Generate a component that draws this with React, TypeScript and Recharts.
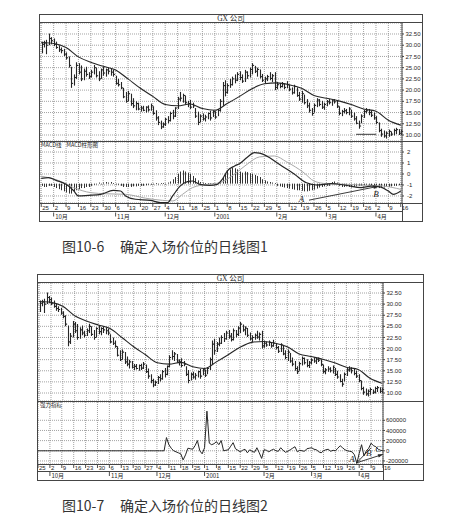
import React from 'react';
import { ComposedChart, Bar, Line, XAxis, YAxis, CartesianGrid, ReferenceLine, ReferenceDot } from 'recharts';

// daily bars, Sep 25 2000 .. Apr 16 2001 (trading day index 0..145)
const high = [
  30.8, 31.0, 31.2, 32.6, 31.8, 31.5, 30.8, 30.0, 29.5, 29.2,
  28.4, 27.5, 25.2, 23.5, 26.2, 26.0, 25.5, 24.8, 25.2, 24.0,
  24.5, 25.6, 25.0, 24.2, 24.8, 25.2, 24.8, 25.0, 24.8, 24.5,
  23.2, 22.5, 21.8, 20.5, 19.6, 19.8, 19.2, 18.2, 17.5, 17.2,
  16.5, 16.5, 16.4, 16.6, 17.0, 16.4, 15.5, 14.2, 13.2, 12.8,
  13.8, 14.2, 15.2, 15.6, 16.2, 18.5, 19.6, 19.2, 18.8, 17.6,
  17.8, 17.2, 16.0, 15.2, 14.6, 14.8, 14.5, 15.0, 15.4, 15.5,
  15.3, 15.8, 18.0, 21.8, 22.2, 21.5, 22.5, 23.0, 23.5, 24.0,
  24.2, 23.5, 24.5, 24.2, 25.0, 26.0, 25.4, 25.0, 24.6, 23.6,
  23.0, 23.4, 24.0, 23.6, 24.0, 21.8, 21.6, 21.8, 21.5, 22.0,
  21.2, 20.6, 21.2, 20.6, 19.6, 19.8, 19.0, 18.0, 17.2, 16.0,
  17.0, 18.2, 18.0, 17.6, 17.2, 17.8, 18.0, 17.9, 18.0, 17.6,
  16.4, 15.6, 16.0, 15.8, 16.2, 15.6, 15.0, 14.2, 13.2, 14.6,
  15.6, 16.0, 15.8, 15.5, 15.0, 14.2, 12.8, 11.4, 11.0, 10.8,
  11.2, 10.8, 11.4, 11.6, 11.3, 11.2,
];
const low = [
  28.2, 29.5, 28.0, 30.0, 30.2, 29.8, 29.2, 28.5, 28.2, 27.6,
  26.8, 25.0, 20.5, 21.0, 22.5, 23.5, 22.0, 22.2, 23.0, 22.5,
  22.8, 23.5, 22.8, 22.0, 22.5, 23.2, 23.0, 23.5, 23.2, 23.0,
  21.2, 20.8, 20.2, 18.2, 17.2, 17.5, 16.5, 16.0, 15.5, 15.5,
  15.2, 15.3, 15.0, 15.2, 15.4, 14.5, 13.2, 12.2, 11.3, 11.6,
  12.0, 12.6, 13.0, 13.5, 14.0, 15.8, 17.5, 17.2, 16.8, 16.2,
  15.8, 16.0, 13.8, 12.2, 12.8, 13.2, 13.0, 13.5, 13.2, 14.0,
  13.6, 14.2, 15.2, 16.5, 18.6, 19.2, 20.5, 21.0, 21.5, 22.0,
  22.2, 21.6, 21.8, 22.5, 22.8, 23.5, 23.8, 23.0, 22.6, 21.8,
  21.5, 22.0, 22.2, 21.8, 20.0, 20.2, 20.4, 20.6, 20.2, 20.4,
  19.8, 19.0, 19.2, 18.5, 17.6, 17.2, 16.8, 16.0, 15.0, 14.3,
  15.0, 16.2, 16.4, 15.8, 15.6, 16.4, 16.8, 16.5, 17.0, 16.0,
  14.4, 14.2, 14.8, 14.6, 14.4, 13.8, 13.2, 12.4, 11.4, 12.6,
  13.8, 14.8, 14.4, 14.0, 13.4, 12.4, 10.6, 9.6, 9.4, 9.2,
  9.6, 9.8, 9.9, 10.2, 10.0, 10.0,
];
const close = [
  30.2, 30.5, 30.0, 31.5, 31.0, 30.2, 29.5, 29.0, 28.8, 28.0,
  27.2, 25.5, 21.5, 22.8, 25.5, 24.0, 22.5, 24.2, 23.5, 23.0,
  24.0, 25.0, 23.2, 22.5, 24.5, 23.8, 24.5, 24.2, 24.0, 23.5,
  21.5, 21.2, 20.5, 18.5, 17.5, 19.2, 17.0, 16.5, 17.0, 15.8,
  16.0, 15.5, 16.2, 15.6, 16.5, 14.8, 13.8, 12.8, 11.8, 12.4,
  13.5, 13.2, 14.8, 14.2, 16.0, 18.0, 18.2, 18.8, 17.2, 17.0,
  16.2, 16.5, 14.2, 12.8, 14.2, 13.6, 14.0, 14.8, 13.8, 15.2,
  14.0, 15.5, 17.5, 21.0, 19.5, 21.0, 21.2, 22.5, 22.2, 23.5,
  22.8, 22.0, 24.0, 23.2, 24.6, 25.5, 24.2, 24.6, 23.0, 22.2,
  22.5, 23.0, 22.6, 23.2, 20.6, 21.2, 20.8, 21.4, 20.6, 21.2,
  20.2, 19.4, 20.8, 18.8, 18.0, 19.2, 17.2, 16.5, 15.5, 14.8,
  16.6, 17.8, 16.8, 16.2, 16.8, 17.4, 17.2, 17.6, 17.4, 16.4,
  14.8, 15.2, 15.4, 15.0, 15.8, 14.2, 13.6, 12.6, 12.0, 14.2,
  15.2, 15.4, 15.0, 14.4, 13.8, 12.8, 11.0, 10.2, 9.8, 10.4,
  10.8, 10.2, 11.0, 11.2, 10.4, 10.8,
];

// moving average, read every 5 days
const maDays = [0, 5, 10, 15, 20, 25, 30, 35, 40, 45, 50, 55, 60, 65, 70, 75, 80, 85, 90, 95, 100, 105, 110, 115, 120, 125, 130, 135, 140, 145];
const maVals = [30.6, 30.4, 29.5, 27.4, 26.2, 25.3, 24.5, 22.5, 20.4, 18.6, 16.8, 16.5, 16.9, 15.9, 15.5, 17.0, 18.6, 20.3, 21.4, 21.6, 21.2, 20.4, 18.8, 18.2, 17.6, 16.8, 15.8, 15.3, 13.3, 12.2];

// MACD line and signal line (turning points)
const macdDays = [0, 3, 6, 10, 13, 15, 19, 24, 29, 32, 34, 38, 44, 48, 51, 53, 56, 59, 61, 64, 68, 71, 73, 75, 78, 80, 83, 86, 88, 92, 96, 102, 107, 111, 117, 123, 129, 133, 137, 140, 142, 145];
const macdVals = [-0.4, -0.33, -0.58, -0.94, -1.5, -2.0, -1.94, -1.85, -1.5, -1.55, -2.0, -2.3, -2.4, -2.6, -2.6, -2.0, -1.1, -0.7, -0.64, -0.94, -1.03, -0.94, -0.5, 0.27, 0.73, 0.94, 1.5, 1.94, 1.9, 1.5, 0.88, 0.0, -0.8, -1.0, -0.88, -1.03, -1.24, -1.1, -1.2, -1.55, -1.85, -1.55];
const signalDays = [0, 7, 13, 20, 26, 34, 42, 49, 53, 57, 61, 67, 72, 78, 83, 88, 94, 99, 106, 110, 115, 123, 131, 138, 145];
const signalVals = [-0.2, -0.6, -1.24, -1.7, -1.8, -1.85, -2.2, -2.4, -2.45, -1.85, -1.24, -0.94, -0.8, 0.0, 0.88, 1.55, 1.64, 1.1, 0.1, -0.64, -0.88, -0.94, -1.03, -1.1, -1.4];

// histogram drawn around its own base level in the MACD panel
const histBase = -0.88;
const histDev = [
  -0.2, -0.3, -0.3, -0.2, -0.2,
  -0.3, -0.4, -0.5, -0.6, -0.7, -0.8, -0.9, -0.9, -0.7, -0.6,
  -0.5, -0.4, -0.4, -0.3, -0.3, -0.2, -0.1,
  0, 0.1, 0, 0.1, 0.15, 0.1, 0.15, 0.05, 0,
  -0.1, -0.2, -0.3, -0.3, -0.3, -0.3, -0.25, -0.25, -0.2, -0.2, -0.2, -0.15, -0.1, -0.1, -0.05,
  0.05, 0, 0.05, 0.05, 0, 0.1, 0.2,
  0.4, 0.6, 0.9, 1.1, 1.2, 1.1, 1.0, 0.9, 0.7, 0.5, 0.3,
  0.15, 0.1, 0.05, 0.05, 0.05, 0.05, 0.05, 0.1, 0.2,
  0.6, 0.9, 1.2, 1.3, 1.45, 1.4, 1.3, 1.1, 1.0, 1.1, 1.05, 0.95, 0.9, 0.8, 0.7, 0.6,
  0.4, 0.3, 0.2, 0.15, 0.1, 0.05,
  -0.2, -0.25, -0.3, -0.35, -0.4, -0.45, -0.5, -0.55, -0.6, -0.6, -0.65, -0.7, -0.7, -0.65, -0.6, -0.55, -0.45, -0.35,
  -0.3, -0.25, -0.2, -0.2, 0.15, 0.2, 0.1, -0.2, -0.3, -0.3,
  -0.25, -0.3, -0.35, -0.3, -0.25, -0.2, -0.2, -0.15, -0.1, -0.1,
  -0.2, -0.3, -0.35, -0.4, -0.4, -0.35, -0.3, -0.3, -0.25, -0.2,
  -0.2, -0.15, -0.1,
];

// force index
const force = [
  0, 0, 0, 0, 0, 0, 0, 0, 0, 0,
  0, 0, 0, 0, 0, 0, 0, 0, 0, 0,
  0, 0, 0, 0, 0, 0, 0, 0, 0, 0,
  0, 0, 0, 0, 0, 0, 0, 0, 0, 0,
  0, 0, 0, 0, 0, 0, 0, 0, 0, 0,
  0, 0, 0,
  0, 260000, 120000, 50000, 0, -20000, -40000, -60000, -180000, -80000,
  50000, 40000, 30000, 100000, 200000, 0, -60000, 60000, 780000, 150000,
  120000, 140000, 180000, 120000, 200000, 0, 10000, 20000, 90000, 160000,
  40000, 10000, -20000, 10000, 30000, -40000, 20000, -10000, -30000, 60000,
  -40000, -150000, 20000, 10000, -20000, 10000, 30000, 0, -10000, 60000,
  10000, -30000, -10000, 20000, 50000, 80000, -20000, 10000, 0, -10000,
  40000, 50000, 60000, 30000, 20000, -20000, -40000, 0, 20000, 30000,
  -10000, 10000, 0, 50000, 100000, 60000, 20000, 0, -10000, -20000,
  -80000, -250000, -50000, 120000, -100000, 0, 50000, 150000, 100000, 80000,
  30000, 10000, 0,
];

const weekDays = [0, 5, 10, 15, 20, 25, 30, 35, 40, 45, 50, 55, 60, 65, 70, 75, 80, 85, 90, 95, 100, 105, 110, 115, 120, 125, 130, 135, 140, 145];
const dayLabels = ['25', '2', '9', '16', '23', '30', '6', '13', '20', '27', '4', '11', '18', '25', '1', '8', '15', '22', '29', '5', '12', '19', '26', '5', '12', '19', '26', '2', '9', '16'];
const monthLabels: Record<number, string> = { 5: '10月', 30: '11月', 50: '12月', 70: '2001', 95: '2月', 115: '3月', 135: '4月' };

const priceTicks = [10, 12.5, 15, 17.5, 20, 22.5, 25, 27.5, 30, 32.5];
const macdTicks = [2, 1, 0, -1, -2];
const forceTicks = [600000, 400000, 200000, 0, -200000];

type Row = {
  i: number;
  hl: [number, number];
  close: number;
  hist: [number, number];
  force: number;
  ma?: number;
  macd?: number;
  signal?: number;
};

const rows: Row[] = high.map((h, i) => ({
  i,
  hl: [low[i], h],
  close: close[i],
  hist: [histBase, histBase + histDev[i]],
  force: force[i],
}));
maDays.forEach((d, k) => { rows[d].ma = maVals[k]; });
macdDays.forEach((d, k) => { rows[d].macd = macdVals[k]; });
signalDays.forEach((d, k) => { rows[d].signal = signalVals[k]; });

const INK = '#262626';
const FRAME = '#454545';
const GRID = '#8c8c8c';
const SANS = '"Liberation Sans", Arial, sans-serif';
const CJK = '"Noto Sans CJK SC", "Noto Sans", sans-serif';
const tickStyle = { fontSize: 6, fill: INK, fontFamily: SANS };

const HLC = (p: any) => {
  const { x, y, width, height, payload } = p;
  if (x == null || !payload) return <g />;
  const cx = Math.round(x + width / 2) + 0.5;
  const top = Math.min(y, y + height);
  const h = Math.abs(height);
  const [lo, hi] = payload.hl;
  const cy = top + ((hi - payload.close) / (hi - lo || 1)) * h;
  return (
    <g stroke={INK} strokeWidth={1.1}>
      <line x1={cx} x2={cx} y1={top} y2={top + h} />
      <line x1={cx} x2={cx + 1.6} y1={cy} y2={cy} />
    </g>
  );
};

const HistBar = (p: any) => {
  const { x, y, width, height } = p;
  if (x == null) return <g />;
  const cx = Math.round(x + width / 2) + 0.5;
  const top = Math.min(y, y + height);
  const h = Math.max(Math.abs(height), 0.8);
  return <line x1={cx} x2={cx} y1={top} y2={top + h} stroke="#333" strokeWidth={1} />;
};

const Arrow = (p: any) => {
  const { x1, y1, x2, y2 } = p;
  const a = Math.atan2(y2 - y1, x2 - x1);
  const bx = x2 - 5 * Math.cos(a);
  const by = y2 - 5 * Math.sin(a);
  const w = 1.8;
  const pts = `${x2},${y2} ${bx - w * Math.sin(a)},${by + w * Math.cos(a)} ${bx + w * Math.sin(a)},${by - w * Math.cos(a)}`;
  return (
    <g>
      <line x1={x1} y1={y1} x2={x2} y2={y2} stroke={INK} strokeWidth={0.9} />
      <polygon points={pts} fill={INK} />
    </g>
  );
};

const Plain = (p: any) => <line x1={p.x1} y1={p.y1} x2={p.x2} y2={p.y2} stroke={INK} strokeWidth={0.9} />;

const letter = (t: string) => (p: any) => (
  <text x={p.cx} y={p.cy} fontSize={9} fontStyle="italic" fontFamily='"Liberation Serif", serif' fill={INK} textAnchor="middle">{t}</text>
);

const makeDateTick = (dayBase: number, monthBase: number) => (p: any) => {
  const { x, y, payload } = p;
  const k = weekDays.indexOf(payload.value);
  if (k < 0) return <g />;
  const m = monthLabels[payload.value];
  return (
    <g>
      <line x1={x} x2={x} y1={y + 1} y2={y + 4} stroke={INK} strokeWidth={0.8} />
      <text x={x + 1} y={y + dayBase} fontSize={6} fontFamily={SANS} fill={INK}>{dayLabels[k]}</text>
      {m && <line x1={x} x2={x} y1={y + monthBase - 6} y2={y + monthBase - 2} stroke={INK} strokeWidth={0.8} />}
      {m && <text x={x + 1.5} y={y + monthBase} fontSize={6} fontFamily={CJK} fill={INK}>{m}</text>}
    </g>
  );
};

const Box = ({ l, t, w, h }: { l: number; t: number; w: number; h: number }) => (
  <div style={{ position: 'absolute', left: l, top: t, width: w, height: h, background: FRAME }} />
);

const Tag = ({ l, t, size, children, font = CJK, color = INK }: any) => (
  <div style={{ position: 'absolute', left: l, top: t, fontSize: size, lineHeight: 1, color, fontFamily: font, whiteSpace: 'nowrap' }}>{children}</div>
);

const PricePanel = ({ width, axisW, domain, marker }: { width: number; axisW: number; domain: [number, number]; marker: boolean }) => (
  <ComposedChart width={width} height={118} data={rows} margin={{ top: 0, right: 0, bottom: 0, left: 0 }} barCategoryGap={0}>
    <CartesianGrid stroke={GRID} strokeDasharray="1 1" strokeWidth={0.8} />
    <XAxis dataKey="i" type="category" ticks={weekDays} interval={0} hide />
    <YAxis orientation="right" width={axisW} domain={domain} allowDataOverflow ticks={priceTicks} interval={0}
      tickFormatter={(v: number) => v.toFixed(2)} tick={tickStyle} tickSize={2} tickMargin={1.5}
      axisLine={{ stroke: FRAME }} tickLine={{ stroke: FRAME }} />
    <Bar dataKey="hl" barSize={1} shape={HLC} isAnimationActive={false} />
    <Line dataKey="ma" type="monotone" connectNulls dot={false} stroke={INK} strokeWidth={1.1} isAnimationActive={false} />
    {marker && <ReferenceLine segment={[{ x: 127, y: 10.15 }, { x: 135, y: 10.15 }]} shape={Plain} ifOverflow="visible" />}
  </ComposedChart>
);

const titleStyle = (left: number, top: number, width: number): React.CSSProperties => ({
  position: 'absolute', left, top, width, textAlign: 'center', fontSize: 7.5, lineHeight: '7px', color: INK,
  fontFamily: '"Liberation Serif", "Noto Sans CJK SC", serif',
});

const TopFigure = () => (
  <>
    <div style={{ position: 'absolute', left: 39, top: 14, width: 384, height: 208, boxSizing: 'border-box', border: `1px solid ${FRAME}` }} />
    <div style={titleStyle(39, 15, 384)}>GX 公司</div>
    <Box l={39} t={22} w={384} h={1} />
    <div style={{ position: 'absolute', left: 40, top: 23 }}>
      <PricePanel width={382} axisW={20} domain={[8.66, 34.95]} marker />
    </div>
    <Box l={39} t={141} w={384} h={1} />
    <div style={{ position: 'absolute', left: 40, top: 142 }}>
      <ComposedChart width={382} height={79} data={rows} margin={{ top: 0, right: 0, bottom: 0, left: 0 }} barCategoryGap={0}>
        <CartesianGrid stroke={GRID} strokeDasharray="1 1" strokeWidth={0.8} />
        <XAxis dataKey="i" type="category" ticks={weekDays} interval={0} height={18} tickSize={0} tickMargin={0}
          axisLine={false} tickLine={false} tick={makeDateTick(6.5, 15.5)} />
        <YAxis orientation="right" width={20} domain={[-2.64, 2.91]} allowDataOverflow ticks={macdTicks} interval={0}
          tick={tickStyle} tickSize={2} tickMargin={3} axisLine={{ stroke: FRAME }} tickLine={{ stroke: FRAME }} />
        <Bar dataKey="hist" barSize={1} shape={HistBar} isAnimationActive={false} />
        <Line dataKey="signal" type="monotone" connectNulls dot={false} stroke="#a8a8a8" strokeWidth={1} isAnimationActive={false} />
        <Line dataKey="macd" type="monotone" connectNulls dot={false} stroke={INK} strokeWidth={1.2} isAnimationActive={false} />
        <ReferenceLine segment={[{ x: 108, y: -2.38 }, { x: 136, y: -1.12 }]} shape={Arrow} ifOverflow="visible" />
        <ReferenceDot x={105} y={-2.55} r={0} shape={letter('A')} ifOverflow="visible" />
        <ReferenceDot x={135} y={-2.05} r={0} shape={letter('B')} ifOverflow="visible" />
      </ComposedChart>
    </div>
    <Tag l={41} t={143} size={5.5}>MACD线&nbsp;&nbsp;&nbsp;&nbsp;MACD柱形图</Tag>
    <Box l={39} t={203} w={384} h={1} />
    <Box l={39} t={211} w={363} h={1} />
    <Box l={402} t={203} w={1} h={18} />
    <Tag l={62} t={239} size={14} color="#333">图10-6</Tag>
    <Tag l={120} t={239} size={14} color="#333">确定入场价位的日线图1</Tag>
  </>
);

const BottomFigure = () => (
  <>
    <div style={{ position: 'absolute', left: 37, top: 274, width: 387, height: 207, boxSizing: 'border-box', border: `1px solid ${FRAME}` }} />
    <div style={titleStyle(37, 275, 387)}>GX 公司</div>
    <Box l={37} t={282} w={387} h={1} />
    <div style={{ position: 'absolute', left: 38, top: 283 }}>
      <PricePanel width={385} axisW={40} domain={[8.2, 34.75]} marker={false} />
    </div>
    <Box l={37} t={401} w={387} h={1} />
    <div style={{ position: 'absolute', left: 38, top: 402 }}>
      <ComposedChart width={385} height={78} data={rows} margin={{ top: 0, right: 0, bottom: 0, left: 0 }}>
        <CartesianGrid stroke={GRID} strokeDasharray="1 1" strokeWidth={0.8} />
        <XAxis dataKey="i" type="category" ticks={weekDays} interval={0} height={16} tickSize={0} tickMargin={0}
          axisLine={false} tickLine={false} tick={makeDateTick(6, 14)} />
        <YAxis orientation="right" width={40} domain={[-260000, 960000]} allowDataOverflow ticks={forceTicks} interval={0}
          tick={tickStyle} tickSize={2} tickMargin={1} axisLine={{ stroke: FRAME }} tickLine={{ stroke: FRAME }} />
        <Line dataKey="force" type="linear" dot={false} stroke={INK} strokeWidth={1} isAnimationActive={false} />
        <ReferenceLine segment={[{ x: 134, y: -235000 }, { x: 140, y: 60000 }]} shape={Plain} ifOverflow="visible" />
        <ReferenceLine segment={[{ x: 134, y: -235000 }, { x: 145, y: -70000 }]} shape={Arrow} ifOverflow="visible" />
        <ReferenceDot x={132} y={-225000} r={0} shape={letter('A')} ifOverflow="visible" />
        <ReferenceDot x={139} y={-110000} r={0} shape={letter('B')} ifOverflow="visible" />
        <ReferenceDot x={143} y={-20000} r={0} shape={letter('C')} ifOverflow="visible" />
      </ComposedChart>
    </div>
    <Tag l={40} t={403} size={5.5}>强力指标</Tag>
    <Box l={37} t={464} w={387} h={1} />
    <Box l={37} t={471} w={346} h={1} />
    <Box l={383} t={464} w={1} h={16} />
    <Tag l={62} t={498} size={14} color="#333">图10-7</Tag>
    <Tag l={120} t={498} size={14} color="#333">确定入场价位的日线图2</Tag>
  </>
);

export default function App() {
  return (
    <div style={{ position: 'absolute', left: 0, top: 0, width: 449, height: 521, background: '#fff', overflow: 'hidden' }}>
      <TopFigure />
      <BottomFigure />
    </div>
  );
}
